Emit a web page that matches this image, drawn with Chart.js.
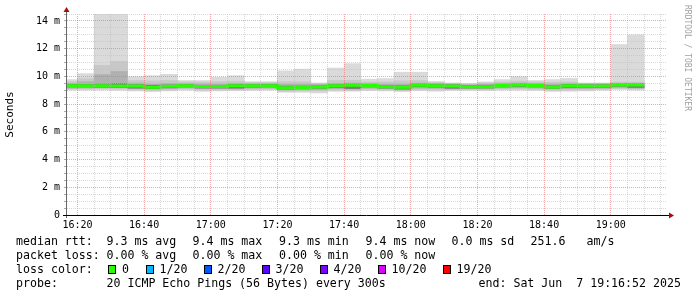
<!DOCTYPE html>
<html><head><meta charset="utf-8">
<script src="https://cdn.jsdelivr.net/npm/chart.js@4/dist/chart.umd.min.js"></script>
<style>
html,body{margin:0;padding:0;background:#fff;}
#wrap{position:relative;width:697px;height:297px;overflow:hidden;background:#fff;}
canvas{position:absolute;left:0;top:0;}
.t{position:absolute;font-family:"DejaVu Sans Mono",monospace;font-size:11.6px;line-height:11.6px;white-space:pre;color:#000;}
.sw{position:absolute;width:8px;height:9px;box-sizing:border-box;border:1px solid #000;}
#wm{position:absolute;left:683px;top:5px;writing-mode:vertical-rl;font-family:"DejaVu Sans Mono",monospace;font-size:8px;line-height:8px;color:#a0a0a0;white-space:pre;}
</style></head>
<body>
<div id="wrap">
<canvas id="c" width="697" height="297"></canvas>
<div id="wm">RRDTOOL / TOBI OETIKER</div>
<div class="t" style="left:16px;top:236px">median rtt:</div>
<div class="t" style="left:106.5px;top:236px">9.3 ms avg</div>
<div class="t" style="left:192.5px;top:236px">9.4 ms max</div>
<div class="t" style="left:279px;top:236px">9.3 ms min</div>
<div class="t" style="left:365.5px;top:236px">9.4 ms now</div>
<div class="t" style="left:451.5px;top:236px">0.0 ms sd</div>
<div class="t" style="left:530.5px;top:236px">251.6</div>
<div class="t" style="left:586.5px;top:236px">am/s</div>
<div class="t" style="left:16px;top:250px">packet loss:</div>
<div class="t" style="left:106.5px;top:250px">0.00 % avg</div>
<div class="t" style="left:192.5px;top:250px">0.00 % max</div>
<div class="t" style="left:279px;top:250px">0.00 % min</div>
<div class="t" style="left:365.5px;top:250px">0.00 % now</div>
<div class="t" style="left:16px;top:263.5px">loss color:</div>
<div id="lossLegend"></div>
<div class="t" style="left:16px;top:277.5px">probe:</div>
<div class="t" style="left:106.5px;top:277.5px">20 ICMP Echo Pings (56 Bytes) every 300s</div>
<div class="t" style="left:478.5px;top:277.5px">end: Sat Jun  7 19:16:52 2025</div>
</div>
<script>
// ---- data (values in milliseconds) ----
const bucketStart = ['16:15','16:20','16:25','16:30','16:35','16:40','16:45','16:50','16:55',
  '17:00','17:05','17:10','17:15','17:20','17:25','17:30','17:35','17:40','17:45','17:50','17:55',
  '18:00','18:05','18:10','18:15','18:20','18:25','18:30','18:35','18:40','18:45','18:50','18:55',
  '19:00','19:05'];
const medianRtt = [9.33,9.33,9.33,9.31,9.30,9.21,9.28,9.33,9.27,
  9.27,9.33,9.32,9.33,9.18,9.20,9.24,9.32,9.36,9.34,9.26,9.22,
  9.36,9.33,9.30,9.26,9.26,9.34,9.37,9.34,9.24,9.32,9.30,9.30,
  9.38,9.38];
const smokeMax = [9.77,10.2,15.0,15.0,9.98,10.05,10.15,9.7,9.7,
  9.93,10.05,9.62,9.62,10.4,10.52,9.53,10.6,10.92,9.8,9.84,10.3,
  10.3,9.63,9.53,9.48,9.6,9.77,9.98,9.7,9.77,9.85,9.53,9.53,
  12.3,13.0];
const smokeHi2 = [9.62,9.84,10.8,11.08,9.7,9.68,9.7,9.6,9.58,
  9.62,9.65,9.55,9.55,9.62,9.62,9.48,9.7,9.72,9.6,9.6,9.68,
  9.7,9.55,9.49,9.45,9.52,9.6,9.66,9.6,9.58,9.6,9.5,9.5,
  9.6,9.6];
const smokeHi3 = [9.5,9.62,10.13,10.35,9.52,9.45,9.5,9.48,9.45,
  9.45,9.5,9.47,9.47,9.45,9.45,9.42,9.5,9.52,9.5,9.45,9.45,
  9.52,9.47,9.44,9.4,9.44,9.5,9.52,9.5,9.45,9.48,9.45,9.45,
  9.5,9.5];
const smokeHi4 = [9.42,9.42,9.45,9.48,9.40,9.36,9.38,9.42,9.36,
  9.36,9.42,9.42,9.42,9.30,9.30,9.32,9.42,9.45,9.43,9.35,9.32,
  9.45,9.44,9.40,9.35,9.36,9.43,9.46,9.43,9.33,9.42,9.40,9.40,
  9.47,9.47];
const smokeLo4 = [9.24,9.24,9.22,9.20,9.15,9.12,9.18,9.24,9.16,
  9.16,9.15,9.22,9.24,9.08,9.10,9.14,9.20,9.12,9.24,9.15,9.08,
  9.25,9.22,9.14,9.16,9.16,9.24,9.27,9.24,9.14,9.20,9.20,9.20,
  9.28,9.20];
const smokeLo3 = [9.15,9.17,9.2,9.18,9.12,9.08,9.12,9.17,9.12,
  9.12,9.1,9.15,9.16,9.03,9.05,9.05,9.12,9.08,9.15,9.12,9.05,
  9.15,9.14,9.1,9.12,9.12,9.17,9.18,9.16,9.1,9.12,9.12,9.14,
  9.2,9.15];
const smokeLo2 = [9.08,9.08,9.1,9.08,9.05,9.0,9.03,9.08,9.03,
  9.03,9.03,9.06,9.07,8.93,8.95,8.95,9.02,9.0,9.06,9.03,8.98,
  9.05,9.04,9.04,9.05,9.04,9.08,9.08,9.06,9.0,9.02,9.03,9.06,
  9.12,9.08];
const smokeMin = [9.0,9.0,9.0,8.98,8.95,8.9,8.95,9.0,8.92,
  8.95,8.97,8.98,9.0,8.85,8.85,8.8,8.92,8.93,8.97,8.95,8.9,
  8.97,8.93,8.98,8.98,8.97,9.0,9.0,8.98,8.92,8.93,8.95,9.0,
  9.05,9.0];
const lossLabels = ['0','1/20','2/20','3/20','4/20','10/20','19/20'];
const lossColors = ['#26ff00','#00b8ff','#0059ff','#5e00ff','#7e00ff','#dd00ff','#ff0000'];
const xStart = '16:16:52', xEnd = '19:16:52';
const stepMin = 5;

// ---- helpers ----
function toMin(s){ const p = s.split(':').map(Number); return p[0]*60 + p[1] + (p[2]||0)/60; }
function fmt(m){ const h = Math.floor(m/60), mm = Math.round(m - h*60); return String(h).padStart(2,'0')+':'+String(mm).padStart(2,'0'); }

// loss legend
(function(){
  const host = document.getElementById('lossLegend');
  const swX = [108,145.5,203.5,261.5,319.5,377.5,442.5];
  lossLabels.forEach((lab,i)=>{
    const s = document.createElement('div'); s.className='sw';
    s.style.left = swX[i]+'px'; s.style.top='264.5px'; s.style.background = lossColors[i];
    host.appendChild(s);
    const t = document.createElement('div'); t.className='t';
    t.style.left = (swX[i]+14)+'px'; t.style.top='263.5px'; t.textContent = lab;
    host.appendChild(t);
  });
})();

const xs = bucketStart.map(toMin);
function band(lo, hi){ return xs.map((x,i)=>({x: x + stepMin/2, y:[lo[i], hi[i]]})); }
const medianPts = xs.map((x,i)=>({x:x, y:medianRtt[i]}));
medianPts.push({x: xs[xs.length-1] + stepMin, y: medianRtt[medianRtt.length-1]});

const xMin = toMin(xStart), xMax = toMin(xEnd);
const xTickVals = []; for (let v = Math.ceil(xMin/5)*5; v <= xMax; v += 5) xTickVals.push(v);
const yTickVals = []; for (let i = 0; i <= 29; i++) yTickVals.push(i*0.5);

const MAJOR = 'rgba(225,110,110,0.6)';
const MINOR = 'rgba(190,190,190,0.6)';

const barCommon = {type:'bar', grouped:false, barPercentage:1, categoryPercentage:1, borderWidth:0, clip:0};

const axisPlugin = {
  id:'axesArrows',
  afterDraw(chart){
    const ctx = chart.ctx, a = chart.chartArea;
    ctx.save();
    ctx.strokeStyle = '#666'; ctx.lineWidth = 1;
    ctx.beginPath(); ctx.moveTo(a.left-0.5, a.bottom+3); ctx.lineTo(a.left-0.5, a.top-3); ctx.stroke();
    ctx.strokeStyle = '#000';
    ctx.beginPath(); ctx.moveTo(a.left-4, a.bottom+0.5); ctx.lineTo(a.right+3, a.bottom+0.5); ctx.stroke();
    ctx.fillStyle = '#a01010';
    ctx.beginPath(); ctx.moveTo(a.left-3.5, a.top-2); ctx.lineTo(a.left+2.5, a.top-2); ctx.lineTo(a.left-0.5, a.top-7); ctx.closePath(); ctx.fill();
    ctx.beginPath(); ctx.moveTo(a.right+2, a.bottom-2.5); ctx.lineTo(a.right+2, a.bottom+3.5); ctx.lineTo(a.right+7, a.bottom+0.5); ctx.closePath(); ctx.fill();
    ctx.restore();
  }
};

Chart.defaults.font.family = '"DejaVu Sans Mono", monospace';
Chart.defaults.color = '#000';

new Chart(document.getElementById('c'), {
  type:'bar',
  data:{
    datasets:[
      {type:'line', data:medianPts, stepped:'before', borderColor:'#26ff00', borderWidth:3, pointRadius:0, fill:false, clip:0, borderCapStyle:'butt'},
      Object.assign({data:band(smokeLo4, smokeHi4), backgroundColor:'#7c7c7c'}, barCommon),
      Object.assign({data:band(smokeLo3, smokeHi3), backgroundColor:'#b0b0b0'}, barCommon),
      Object.assign({data:band(smokeLo2, smokeHi2), backgroundColor:'#c8c8c8'}, barCommon),
      Object.assign({data:band(smokeMin, smokeMax), backgroundColor:'#dadada'}, barCommon)
    ]
  },
  options:{
    responsive:false, animation:false, devicePixelRatio:1,
    layout:{padding:{left:0, right:30, top:14, bottom:0}},
    plugins:{legend:{display:false}, tooltip:{enabled:false}},
    scales:{
      x:{
        type:'linear', min:xMin, max:xMax, offset:false,
        afterFit(s){ s.height = 82; },
        afterBuildTicks(s){ s.ticks = xTickVals.map(v=>({value:v})); },
        grid:{offset:false, z:1, drawTicks:false, lineWidth:1,
          color:(c)=> (c.tick && c.tick.value % 20 === 0) ? MAJOR : MINOR},
        border:{display:false, dash:[1,1]},
        ticks:{autoSkip:false, maxRotation:0, padding:4, font:{size:10},
          callback:(v)=> v % 20 === 0 ? fmt(v) : ''}
      },
      y:{
        type:'linear', min:0, max:14.5,
        afterFit(s){ s.width = 67; },
        afterBuildTicks(s){ s.ticks = yTickVals.map(v=>({value:v})); },
        grid:{z:1, drawTicks:true, tickLength:3, tickColor:'#aaa', tickBorderDash:[], lineWidth:1,
          color:(c)=> (c.tick && c.tick.value % 2 === 0) ? MAJOR : MINOR},
        border:{display:false, dash:[1,1]},
        title:{display:true, text:'Seconds', font:{size:11}, padding:{top:4,bottom:0}},
        ticks:{autoSkip:false, padding:4, font:{size:10},
          callback:(v)=> v % 2 === 0 ? (v === 0 ? '0' : v + ' m') : ''}
      }
    }
  },
  plugins:[axisPlugin]
});
</script>
</body></html>
